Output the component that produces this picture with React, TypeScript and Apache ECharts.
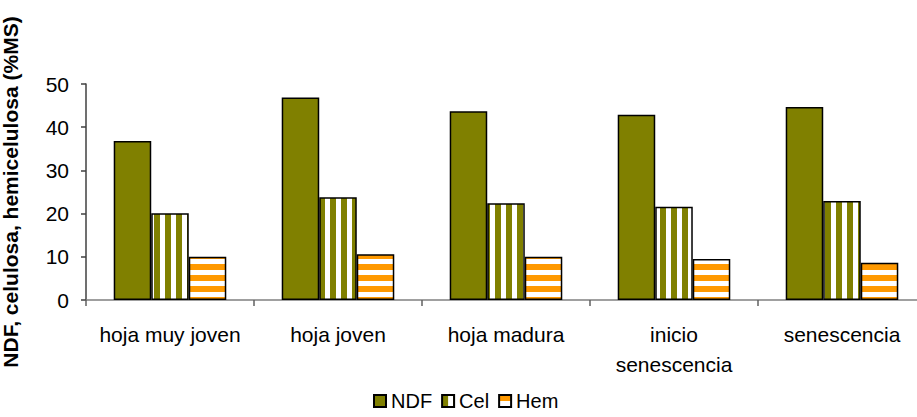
import React, { useEffect, useRef } from "react";
import * as echarts from "echarts";

const categories = ["hoja muy joven", "hoja joven", "hoja madura", "inicio\nsenescencia", "senescencia"];
const seriesNames = ["NDF", "Cel", "Hem"];
const ndfValues = [36.8, 46.9, 43.7, 42.9, 44.7];
const celValues = [20.1, 23.8, 22.4, 21.6, 22.9];
const hemValues = [10.0, 10.6, 10.0, 9.5, 8.6];
const yTicks = { min: 0, max: 50, interval: 10 };
const yTitle = "NDF, celulosa, hemicelulosa (%MS)";

const OLIVE = "#808000";
const ORANGE = "#FF9900";
const FONT = "Arial, 'Liberation Sans', sans-serif";

function makePattern(kind: "v" | "h") {
  const c = document.createElement("canvas");
  const p = 11;
  c.width = p;
  c.height = p;
  const ctx = c.getContext("2d")!;
  ctx.fillStyle = "#ffffff";
  ctx.fillRect(0, 0, p, p);
  if (kind === "v") {
    ctx.fillStyle = OLIVE;
    ctx.fillRect(0, 0, 6, p);
  } else {
    ctx.fillStyle = ORANGE;
    ctx.fillRect(0, 0, p, 6);
  }
  return { image: c, repeat: "repeat", imageWidth: p, imageHeight: p } as any;
}

export default function App() {
  const ref = useRef<HTMLDivElement>(null);
  useEffect(() => {
    if (!ref.current) return;
    const chart = echarts.init(ref.current, undefined, { renderer: "svg" });
    const celPattern = makePattern("v");
    const hemPattern = makePattern("h");
    const border = { borderColor: "#000", borderWidth: 1.5 };
    chart.setOption({
      animation: false,
      backgroundColor: "#fff",
      textStyle: { fontFamily: FONT },
      grid: {
        left: 86,
        top: 84,
        bottom: 117,
        right: -9,
        containLabel: false,
        outerBoundsMode: "none",
      },
      legend: {
        bottom: 1,
        left: 368,
        itemWidth: 12,
        itemHeight: 12,
        itemGap: 9,
        icon: "rect",
        textStyle: { fontSize: 20, color: "#000", fontFamily: FONT },
        data: seriesNames,
      },
      xAxis: {
        type: "category",
        data: categories,
        axisLine: { lineStyle: { color: "#808080", width: 1.5 } },
        axisTick: { show: true, length: 6, alignWithLabel: false, lineStyle: { color: "#606060", width: 1.5 } },
        axisLabel: {
          interval: 0,
          fontSize: 21,
          color: "#000",
          lineHeight: 30,
          margin: 19,
          fontFamily: FONT,
        },
      },
      yAxis: {
        type: "value",
        min: yTicks.min,
        max: yTicks.max,
        interval: yTicks.interval,
        name: yTitle,
        nameLocation: "middle",
        nameRotate: 90,
        nameGap: 65,
        nameTextStyle: { fontSize: 21, fontWeight: "bold", color: "#000", fontFamily: FONT },
        splitLine: { show: false },
        axisLine: { show: true, lineStyle: { color: "#404040", width: 1.5 } },
        axisTick: { show: true, length: 5, lineStyle: { color: "#404040", width: 1.5 } },
        axisLabel: { fontSize: 21, color: "#000", margin: 17, fontFamily: FONT },
      },
      series: [
        {
          name: seriesNames[0],
          type: "bar",
          data: ndfValues,
          barGap: "0%",
          barCategoryGap: "33%",
          itemStyle: { color: OLIVE, ...border },
        },
        {
          name: seriesNames[1],
          type: "bar",
          data: celValues,
          itemStyle: { color: celPattern, ...border },
        },
        {
          name: seriesNames[2],
          type: "bar",
          data: hemValues,
          itemStyle: { color: hemPattern, ...border },
        },
      ],
    });
    return () => chart.dispose();
  }, []);
  return (
    <div
      ref={ref}
      style={{ position: "fixed", left: 0, top: 0, width: 917, height: 417 }}
    />
  );
}
